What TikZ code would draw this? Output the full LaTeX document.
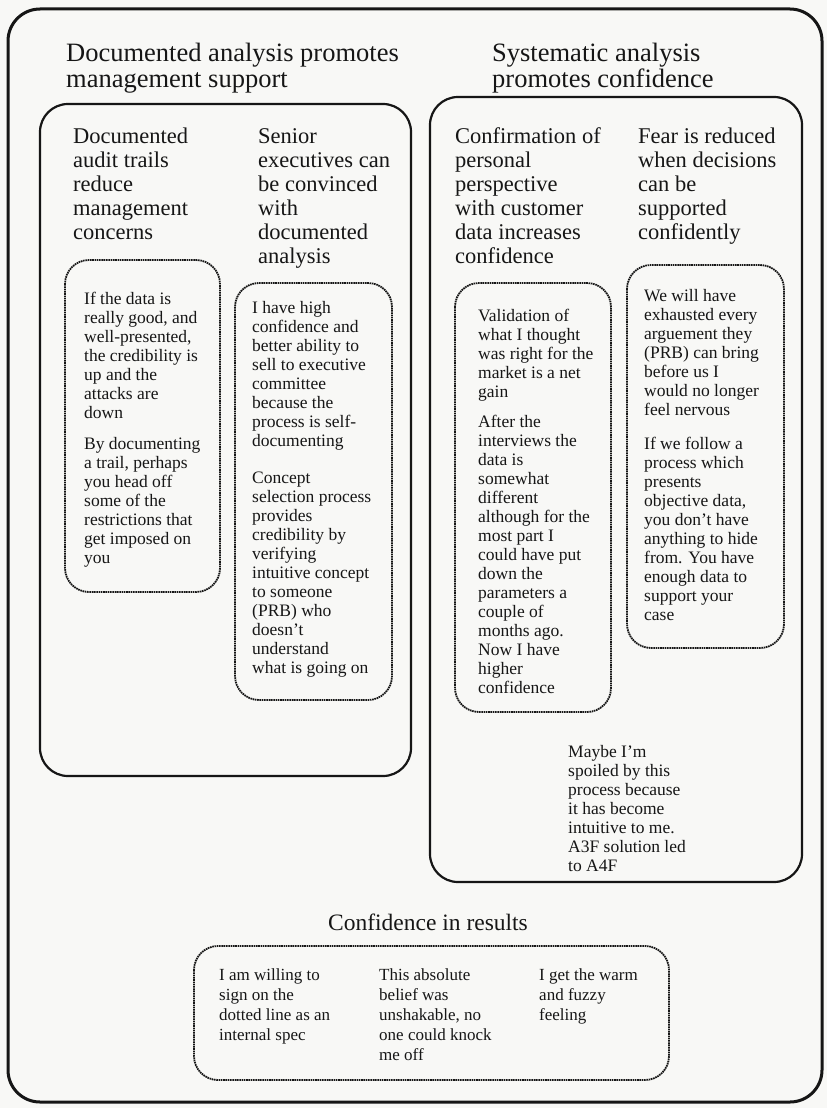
\documentclass[tikz,border=0pt]{standalone}
\usepackage{fontspec}
\setmainfont{Liberation Serif}
\usepackage{xcolor}
\usepackage{tikz}

\definecolor{paper}{RGB}{248,248,246}
\definecolor{ink}{RGB}{22,22,22}

% multi-line nodes sit on the baseline of their last line
\tikzset{
  bigtitle/.style={font=\fontsize{26.5}{25.5}\selectfont, align=left, anchor=base west, inner sep=0pt, text=ink},
  colhead/.style={font=\fontsize{22.5}{24}\selectfont, align=left, anchor=base west, inner sep=0pt, text=ink},
  saying/.style={font=\fontsize{17.5}{19}\selectfont, align=left, anchor=base west, inner sep=0pt, text=ink},
  panel/.style={draw=ink, line width=2.2pt, rounded corners=28pt},
  roughbox/.style={draw=ink, line width=1.8pt, dash pattern=on 1.6pt off 0.7pt, rounded corners=24pt}
}

\begin{document}
\begin{tikzpicture}[x=1pt, y=-1pt]
    % Page
    \fill[paper] (0,0) rectangle (827,1108);
    \useasboundingbox (0,0) rectangle (827,1108);
    \draw[ink, line width=3pt, rounded corners=32pt] (8,9) rectangle (822,1102);
    % Two theme panels
    \draw[panel] (40,104) rectangle (411,776);
    \draw[panel] (430,97) rectangle (802,882);
    % Theme titles
    \node[bigtitle] (titleL) at (66,87) {Documented analysis promotes\\management support};
    \node[bigtitle] (titleR) at (492,87) {Systematic analysis\\promotes confidence};
    % Column headings
    \node[colhead] (headA) at (73,239) {Documented\\audit trails\\reduce\\management\\concerns};
    \node[colhead] (headB) at (258,263) {Senior\\executives can\\be convinced\\with\\documented\\analysis};
    \node[colhead] (headC) at (455,263) {Confirmation of\\personal\\perspective\\with customer\\data increases\\confidence};
    \node[colhead] (headD) at (638,239) {Fear is reduced\\when decisions\\can be\\supported\\confidently};
    % Quote boxes
    \draw[roughbox] (65,260) rectangle (220,592);
    \draw[roughbox] (235,283) rectangle (392,700);
    \draw[roughbox] (455,283) rectangle (611,712);
    \draw[roughbox] (627,265) rectangle (784,648);
    \node[saying] (sayA) at (84,563) {If the data is\\really good, and\\well-presented,\\the credibility is\\up and the\\attacks are\\down\\[12pt]By documenting\\a trail, perhaps\\you head off\\some of the\\restrictions that\\get imposed on\\you};
    \node[saying] (sayB) at (252,673) {I have high\\confidence and\\better ability to\\sell to executive\\committee\\because the\\process is self-\\documenting\\[18pt]Concept\\selection process\\provides\\credibility by\\verifying\\intuitive concept\\to someone\\(PRB) who\\doesn't\\understand\\what is going on};
    \node[saying] (sayC) at (478,693) {Validation of\\what I thought\\was right for the\\market is a net\\gain\\[11pt]After the\\interviews the\\data is\\somewhat\\different\\although for the\\most part I\\could have put\\down the\\parameters a\\couple of\\months ago.\\Now I have\\higher\\confidence};
    \node[saying] (sayD) at (644,620) {We will have\\exhausted every\\arguement they\\(PRB) can bring\\before us I\\would no longer\\feel nervous\\[15pt]If we follow a\\process which\\presents\\objective data,\\you don't have\\anything to hide\\from. You have\\enough data to\\support your\\case};
    \node[saying] (sayE) at (568,871) {Maybe I'm\\spoiled by this\\process because\\it has become\\intuitive to me.\\A3F solution led\\to A4F};
    % Confidence in results
    \node[anchor=base, inner sep=0pt, text=ink, font=\fontsize{23.5}{25}\selectfont] (confT) at (428,930) {Confidence in results};
    \draw[roughbox] (194,946) rectangle (669,1080);
    \node[saying, font=\fontsize{17}{20}\selectfont] (resA) at (219,1040) {I am willing to\\sign on the\\dotted line as an\\internal spec};
    \node[saying, font=\fontsize{17}{20}\selectfont] (resB) at (379,1060) {This absolute\\belief was\\unshakable, no\\one could knock\\me off};
    \node[saying, font=\fontsize{17}{20}\selectfont] (resC) at (539,1020) {I get the warm\\and fuzzy\\feeling};
\end{tikzpicture}
\end{document}
